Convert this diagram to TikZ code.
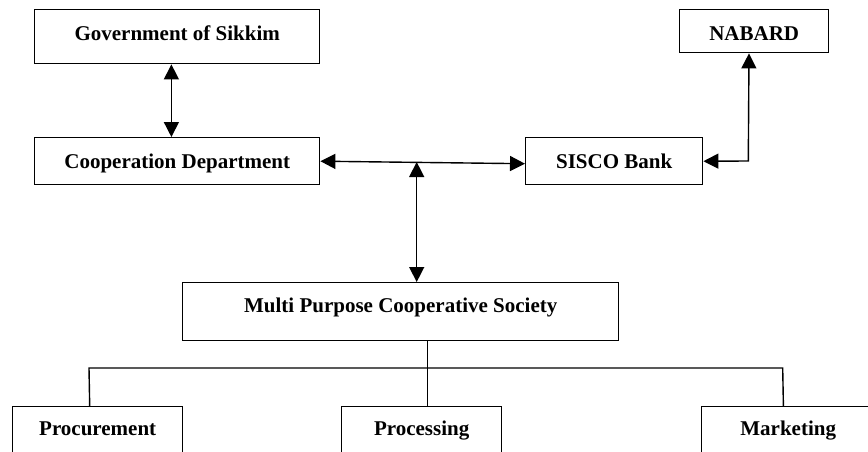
\documentclass[tikz,border=0pt]{standalone}
\usepackage{fontspec}
\setmainfont{Liberation Serif}
\usetikzlibrary{arrows.meta}
\begin{document}
\begin{tikzpicture}[x=1pt,y=-1pt,
  box/.style={draw,line width=1.4pt,inner xsep=0pt,inner ysep=0pt,anchor=north west,
    font=\fontsize{21}{25}\selectfont\bfseries,align=center},
  link/.style={line width=1.4pt},
  biarrow/.style={link,{Triangle[length=15pt,width=15pt]}-{Triangle[length=15pt,width=15pt]}}]
\useasboundingbox (0,0) rectangle (868,451);
\clip (0,0) rectangle (868,451);
\node[box,minimum width=285pt,text height=31pt,text depth=23pt] (gov) at (34,9) {Government of Sikkim};
\node[box,minimum width=285pt,text height=31pt,text depth=16pt] (coop) at (34,137) {Cooperation Department};
\node[box,minimum width=149pt,text height=31pt,text depth=12pt] (nabard) at (679,9) {NABARD};
\node[box,minimum width=177pt,text height=31pt,text depth=16pt] (sisco) at (525,137) {SISCO Bank};
\node[box,minimum width=436pt,text height=30pt,text depth=28pt] (mpcs) at (182,282) {Multi Purpose Cooperative Society};
\node[box,minimum width=170pt,text height=29pt,text depth=35pt] (proc) at (12,406) {Procurement};
\node[box,minimum width=160pt,text height=29pt,text depth=35pt] (procg) at (341,406) {Processing};
\node[box,minimum width=173pt,text height=29pt,text depth=35pt] (mkt) at (701,406) {Marketing};
% connectors
\draw[biarrow] ([xshift=-5.8pt]gov.south) -- ([xshift=-5.8pt]coop.north);
\draw[biarrow] (coop.east) -- ([yshift=-2.5pt]sisco.west);
\coordinate (j) at (416.7,162);
\draw[biarrow] (j) -- (j |- mpcs.north);
\coordinate (nb) at (748.3,161);
\draw[biarrow] (sisco.east) -- (nb) -- ([xshift=-5.2pt]nabard.south);
\coordinate (barL) at (89,368);
\coordinate (barR) at (782.7,368);
\draw[link] ([xshift=26.7pt]mpcs.south) -- ([xshift=5.7pt]procg.north);
\draw[link] ([xshift=-8pt]proc.north) -- (barL) -- (barR) -- ([xshift=-4.8pt]mkt.north);
\end{tikzpicture}
\end{document}
